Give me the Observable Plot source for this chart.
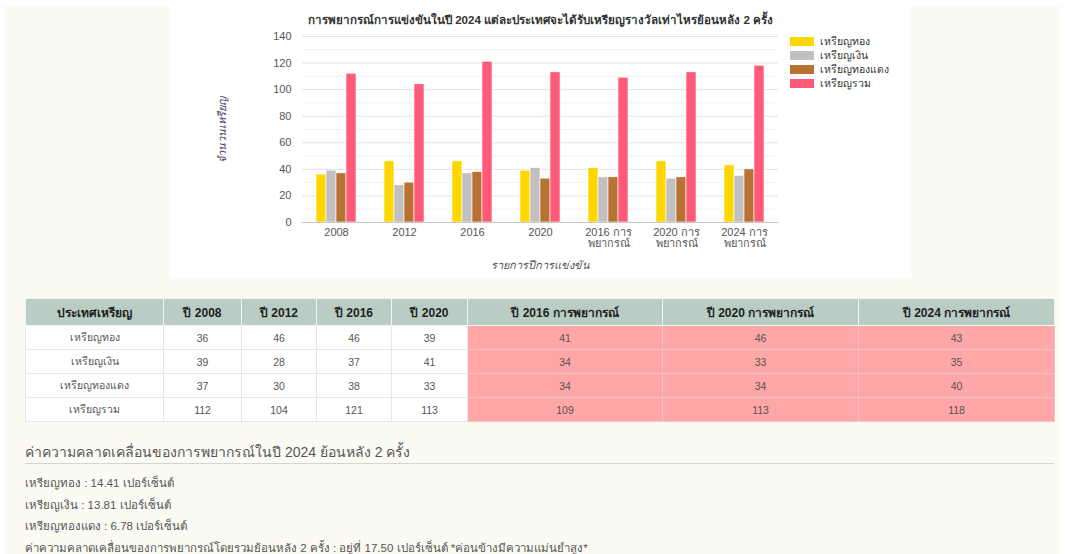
<!DOCTYPE html>
<html><head><meta charset="utf-8">
<script src="https://cdn.jsdelivr.net/npm/d3@7"></script>
<script src="https://cdn.jsdelivr.net/npm/@observablehq/plot@0.6"></script>
<style>
body{margin:0;background:#fff;font-family:"Liberation Sans",Arial,"Noto Sans",sans-serif;}
#page{position:absolute;left:4px;top:6px;width:1056px;height:560px;background:#fbfbf4;}
#chart{position:absolute;left:166px;top:0;width:741px;height:272px;background:#fff;}
#title{position:absolute;top:5px;left:0;width:741px;text-align:center;font-weight:bold;font-size:11.6px;color:#333;}
#plot{position:absolute;left:0;top:20px;}
#legend{position:absolute;left:620px;top:28px;font-size:10.5px;color:#333;}
.lg{height:14px;display:flex;align-items:center;}
.sw{width:24px;height:9px;margin-right:6px;}
#tbl{position:absolute;left:21px;top:292px;border-collapse:collapse;table-layout:fixed;width:1029px;}
#tbl th{background:#b9cdc5;height:26px;font-size:12px;font-weight:bold;color:#222;border:1px solid #f4f4f4;padding:0;}
#tbl td{height:23px;font-size:10.5px;color:#555;text-align:center;border:1px solid #e6e6e6;padding:0;background:#fff;}
#tbl td.fc{background:#ffa6a6;border-color:#f3c3c3;}
#err{position:absolute;left:21px;top:436px;width:1029px;color:#555;}
#err h3{margin:0;font-weight:normal;font-size:14px;height:21px;line-height:21px;border-bottom:1px solid #d4d4d4;padding-bottom:0;}
#err p{margin:0;font-size:11.5px;height:21.5px;line-height:21.5px;}
#err h3 + p{margin-top:9px;}
g[aria-label="fx-axis label"] text, g[aria-label="y-axis label"] text{font-style:italic;}
g[aria-label="y-axis label"] text{fill:#4d3d6b;}
</style>
</head><body>
<div id="page">
  <div id="chart">
    <div id="title"></div>
    <div id="plot"></div>
    <div id="legend"></div>
  </div>
  <table id="tbl"></table>
  <div id="err"></div>
</div>
<script>
const chartTitle = "การพยากรณ์การแข่งขันในปี 2024 แต่ละประเทศจะได้รับเหรียญรางวัลเท่าไหรย้อนหลัง 2 ครั้ง";
const categories = ["2008","2012","2016","2020","2016 การพยากรณ์","2020 การพยากรณ์","2024 การพยากรณ์"];
const forecastFlags = [false,false,false,false,true,true,true];
const medals = ["เหรียญทอง","เหรียญเงิน","เหรียญทองแดง","เหรียญรวม"];
const gold   = [36,46,46,39,41,46,43];
const silver = [39,28,37,41,34,33,35];
const bronze = [37,30,38,33,34,34,40];
const total  = [112,104,121,113,109,113,118];
const medalColors = ["#ffd700","#c0c0c0","#b87333","#ff5a78"];
const yTicks = [0,20,40,60,80,100,120,140];
const yMinor = [10,30,50,70,90,110,130];
const xTitle = "รายการปีการแข่งขัน";
const yTitle = "จำนวนเหรียญ";
const tableHead = "ประเทศเหรียญ";
const errHeading = "ค่าความคลาดเคลื่อนของการพยากรณ์ในปี 2024 ย้อนหลัง 2 ครั้ง";
const errLines = [
  "เหรียญทอง : 14.41 เปอร์เซ็นต์",
  "เหรียญเงิน : 13.81 เปอร์เซ็นต์",
  "เหรียญทองแดง : 6.78 เปอร์เซ็นต์",
  "ค่าความคลาดเคลื่อนของการพยากรณ์โดยรวมย้อนหลัง 2 ครั้ง : อยู่ที่ 17.50 เปอร์เซ็นต์ *ค่อนข้างมีความแม่นยำสูง*"
];

const series = [gold, silver, bronze, total];
const data = [];
categories.forEach((c, i) => medals.forEach((m, j) => data.push({category: c, medal: m, value: series[j][i]})));

document.getElementById("title").textContent = chartTitle;

const chart = Plot.plot({
  width: 741, height: 252,
  marginLeft: 132, marginRight: 133, marginTop: 10, marginBottom: 56,
  style: {fontFamily: '"Liberation Sans",Arial,"Noto Sans",sans-serif', fontSize: "11px", color: "#555", background: "transparent"},
  fx: {domain: categories, padding: 0, label: xTitle, labelAnchor: "center", labelOffset: 46,
       tickSize: 0, tickPadding: 6,
       tickFormat: d => d.replace(" การพยากรณ์", " การ\nพยากรณ์")},
  x: {domain: medals, axis: null, paddingInner: 0, paddingOuter: 1.1},
  y: {domain: [0, 140], ticks: yTicks, tickSize: 0, tickPadding: 11, label: yTitle,
      labelAnchor: "center", labelOffset: 84, labelArrow: false},
  color: {domain: medals, range: medalColors},
  marks: [
    Plot.ruleY(yMinor, {stroke: "#f1f1f1"}),
    Plot.ruleY(yTicks.slice(1), {stroke: "#e3e3e3"}),
    Plot.barY(data, {fx: "category", x: "medal", y: "value", fill: "medal", stroke: "#fff", strokeWidth: 0.6}),
    Plot.ruleY([0], {stroke: "#c6c6c6"})
  ]
});
document.getElementById("plot").appendChild(chart);

const legend = d3.select("#legend");
medals.forEach((m, j) => {
  const row = legend.append("div").attr("class", "lg");
  row.append("div").attr("class", "sw").style("background", medalColors[j]);
  row.append("span").text(m);
});

const colW = [138,78,75,75,76,195,196,196];
const tbl = d3.select("#tbl");
const cg = tbl.append("colgroup");
colW.forEach(w => cg.append("col").style("width", w + "px"));
const hr = tbl.append("tr");
hr.append("th").text(tableHead);
categories.forEach(c => hr.append("th").text("ปี " + c));
medals.forEach((m, j) => {
  const tr = tbl.append("tr");
  tr.append("td").text(m);
  categories.forEach((c, i) => tr.append("td").attr("class", forecastFlags[i] ? "fc" : null).text(series[j][i]));
});

const err = d3.select("#err");
err.append("h3").text(errHeading);
errLines.forEach(t => err.append("p").text(t));
</script>
</body></html>
